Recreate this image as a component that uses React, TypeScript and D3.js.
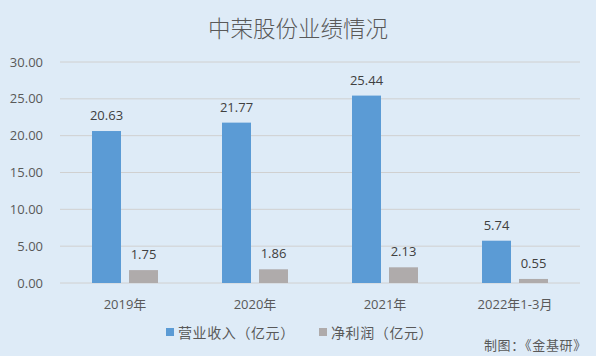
import React from "react";
import * as d3 from "d3";

const categories = ["2019年", "2020年", "2021年", "2022年1-3月"];
const revenue = [20.63, 21.77, 25.44, 5.74];
const profit = [1.75, 1.86, 2.13, 0.55];
const seriesNames = ["营业收入（亿元）", "净利润（亿元）"];
const yTicks = [0, 5, 10, 15, 20, 25, 30];
const title = "中荣股份业绩情况";
const footer = "制图：《金基研》";

const W = 596;
const H = 356;
const colors = ["#5B9BD5", "#AFABAB"];
const textColor = "#595959";
const font = "'Open Sans', 'Noto Sans CJK SC', sans-serif";

export default function App() {
  const x0 = d3.scaleBand<string>().domain(categories).range([60, 580]).padding(0);
  const x1 = d3.scaleBand<string>().domain(["rev", "profit"]).range([32, 98]).paddingInner(0.2162).paddingOuter(0);
  const y = d3.scaleLinear().domain([0, 30]).range([283, 62]);
  const data = [revenue, profit];
  const keys = ["rev", "profit"];

  return (
    <svg width={W} height={H} style={{ position: "absolute", left: 0, top: 0, display: "block" }} fontFamily={font}>
      <rect x={0} y={0} width={W} height={H} fill="#DEEBF7" />
      <text x={W / 2} y={37} textAnchor="middle" fontSize={22.5} fill={textColor} fontFamily="'Noto Sans CJK SC', sans-serif" fontWeight={300}>
        {title}
      </text>
      {yTicks.map((t) => (
        <g key={t}>
          <line x1={60} x2={580} y1={y(t)} y2={y(t)} stroke="#D0D0D0" strokeWidth={1} />
          <text x={43} y={y(t) + 4.5} textAnchor="end" fontSize={13} fill={textColor}>
            {t.toFixed(2)}
          </text>
        </g>
      ))}
      {categories.map((c, i) => (
        <g key={c}>
          {data.map((s, j) => {
            const bx = (x0(c) as number) + (x1(keys[j]) as number);
            const bw = x1.bandwidth();
            return (
              <g key={j}>
                <rect x={bx} y={y(s[i])} width={bw} height={y(0) - y(s[i])} fill={colors[j]} />
                <text x={bx + bw / 2} y={y(s[i]) - 11} textAnchor="middle" fontSize={13} fill="#404040">
                  {s[i].toFixed(2)}
                </text>
              </g>
            );
          })}
          <text x={(x0(c) as number) + x0.bandwidth() / 2} y={308.5} textAnchor="middle" fontSize={13} fill={textColor}>
            {c}
          </text>
        </g>
      ))}
      <rect x={166} y={328} width={8} height={8} fill={colors[0]} />
      <text x={178} y={337.5} fontSize={14} letterSpacing={0.6} fill={textColor} fontFamily="'Noto Sans CJK SC', sans-serif">{seriesNames[0]}</text>
      <rect x={319} y={328} width={8} height={8} fill={colors[1]} />
      <text x={331} y={337.5} fontSize={14} letterSpacing={0.6} fill={textColor} fontFamily="'Noto Sans CJK SC', sans-serif">{seriesNames[1]}</text>
      <text x={587} y={350} textAnchor="end" fontSize={13} letterSpacing={0.7} fill={textColor} fontFamily="'Noto Sans CJK SC', sans-serif">{footer}</text>
    </svg>
  );
}
